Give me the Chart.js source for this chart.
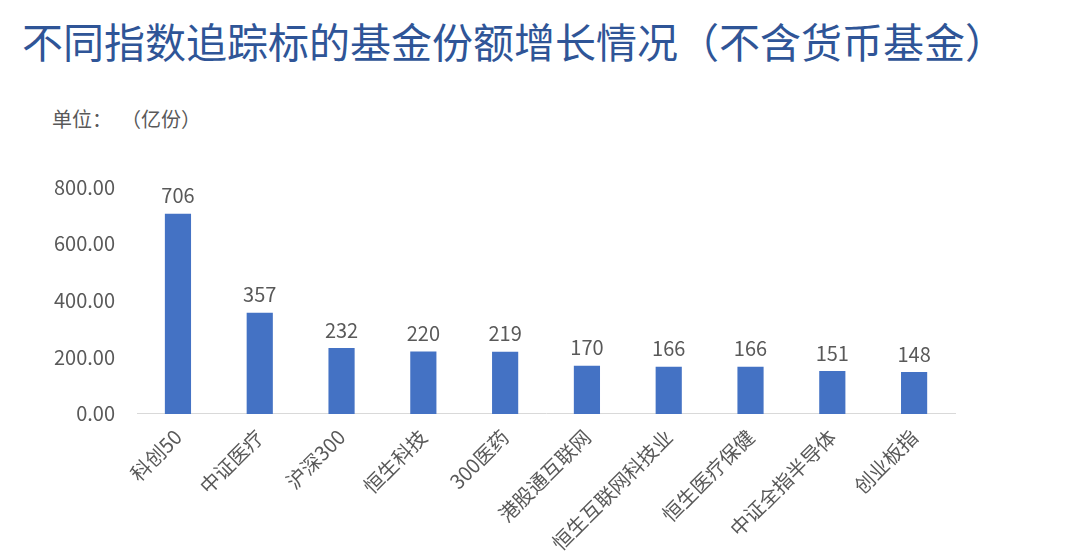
<!DOCTYPE html>
<html><head><meta charset="utf-8">
<script src="https://cdn.jsdelivr.net/npm/chart.js@4"></script>
<style>
body{margin:0;width:1080px;height:558px;background:#fff;overflow:hidden;font-family:"Noto Sans CJK SC",sans-serif;position:relative}
#t{position:absolute;left:22px;top:10px;font-size:41px;color:#2F5597;white-space:nowrap}
#u{position:absolute;left:52px;top:104px;font-size:20px;color:#595959;white-space:pre}
#w{position:absolute;left:0;top:140px;width:1080px;height:418px}
</style></head><body>
<div id="t">不同指数追踪标的基金份额增长情况（不含货币基金）</div>
<div id="u">单位：  （亿份）</div>
<div id="w"><canvas id="c"></canvas></div>
<script>
const categories=["科创50","中证医疗","沪深300","恒生科技","300医药","港股通互联网","恒生互联网科技业","恒生医疗保健","中证全指半导体","创业板指"];
const values=[706,357,232,220,219,170,166,166,151,148];
const labelPlugin={id:"lbl",afterDatasetsDraw(ch){const ctx=ch.ctx;const m=ch.getDatasetMeta(0);ctx.save();ctx.font='20px "Noto Sans CJK SC"';ctx.fillStyle="#595959";ctx.textAlign="center";ctx.textBaseline="bottom";m.data.forEach((b,i)=>ctx.fillText(String(values[i]),b.x,b.y-8));ctx.restore();}};
new Chart(document.getElementById("c"),{type:"bar",data:{labels:categories,datasets:[{data:values,backgroundColor:"#4472C4",barPercentage:0.64,categoryPercentage:0.5}]},
options:{responsive:true,maintainAspectRatio:false,animation:false,layout:{padding:{top:47,right:125,left:40,bottom:0}},
plugins:{legend:{display:false},tooltip:{enabled:false}},
scales:{x:{grid:{display:false},border:{color:"#D9D9D9"},ticks:{color:"#595959",font:{size:20,family:"Noto Sans CJK SC"},maxRotation:45,minRotation:45}},
y:{min:0,max:800,grid:{display:false},border:{display:false},ticks:{stepSize:200,color:"#595959",padding:14,font:{size:20,family:"Noto Sans CJK SC"},callback:v=>v.toFixed(2)}}}},plugins:[labelPlugin]});
</script></body></html>
